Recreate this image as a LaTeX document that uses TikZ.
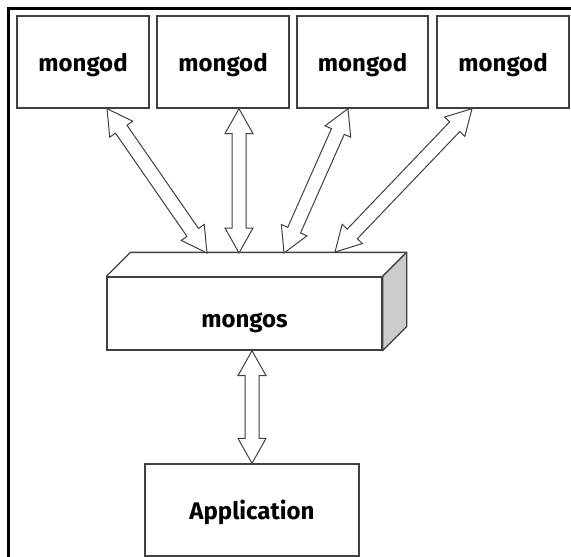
\documentclass[tikz,border=0pt]{standalone}
\usepackage{fontspec}
\setsansfont{Fira Sans}
\usetikzlibrary{calc}

\tikzset{
  box/.style={draw=black!75, line width=1.3pt, minimum width=132, minimum height=92, inner sep=0pt,
    text height=19pt, text depth=0pt, font=\sffamily\bfseries\fontsize{24}{27}\selectfont},
  fatarrow/.style={draw=black!75, line width=1pt, fill=white, line join=miter},
  edge/.style={draw=black!75, line width=1.3pt, line join=round}
}
% hollow double-headed arrow between two points
\newcommand\dblarrow[2]{%
  \draw[fatarrow] let \p1=(#1), \p2=(#2),
    \n1={atan2(\y2-\y1,\x2-\x1)}, \n2={veclen(\x2-\x1,\y2-\y1)} in
    {[shift={(\p1)}, rotate=\n1]
    (0,0) -- (25,14) -- (25,7) -- (\n2-25,7) -- (\n2-25,14) -- (\n2,0)
    -- (\n2-25,-14) -- (\n2-25,-7) -- (25,-7) -- (25,-14) -- cycle};}

\begin{document}
\begin{tikzpicture}[x=1pt, y=-1pt]
  \useasboundingbox (0,0) rectangle (571,557);
  \clip (0,0) rectangle (571,557);
  % frame
  \draw[line width=3pt] (8,580) -- (8,8) -- (590,8);
  % servers
  \node[box] (m1) at (83,62) {mongod};
  \node[box] (m2) at (223,62) {mongod};
  \node[box, minimum width=131] (m3) at (362.5,62) {mongod};
  \node[box] (m4) at (503,62) {mongod};
  % router
  \node[box, minimum width=275, minimum height=73, text height=27pt] (mongos) at (244.5,313.5) {mongos};
  \draw[edge] (mongos.north west) -- ++(24,-24) -- ($(mongos.north east)+(24,-24)$) -- (mongos.north east);
  \draw[edge, fill=black!20] (mongos.north east) -- ++(24,-24) -- ($(mongos.south east)+(24,-24)$)
    -- (mongos.south east) -- cycle;
  % client
  \node[box, minimum width=214] (app) at (252,510) {Application};
  % arrow ends
  \coordinate (t1) at ($(m1.south)+(24,0)$);
  \coordinate (t2) at ($(m2.south)+(16,0)$);
  \coordinate (t3) at ($(m3.south)+(-14.5,0)$);
  \coordinate (t4) at ($(m4.south)+(-31,0)$);
  \coordinate (b1) at (207,253);
  \coordinate (b2) at (239,253);
  \coordinate (b3) at (284,253);
  \coordinate (b4) at (335,252);
  \dblarrow{t1}{b1}
  \dblarrow{t2}{b2}
  \dblarrow{t3}{b3}
  \dblarrow{t4}{b4}
  \dblarrow{mongos.south -| app.north}{app.north}
\end{tikzpicture}
\end{document}
